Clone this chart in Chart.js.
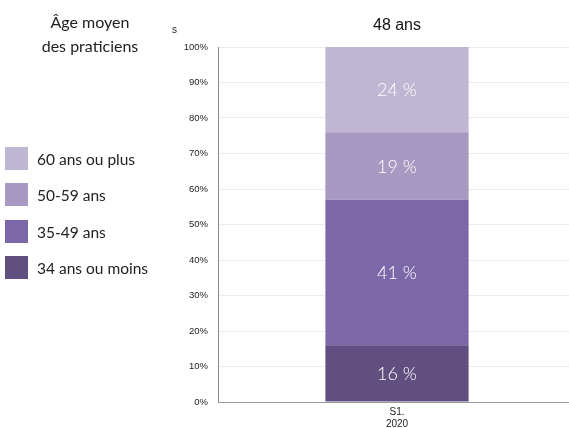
<!DOCTYPE html>
<html><head><meta charset="utf-8">
<script src="https://cdn.jsdelivr.net/npm/chart.js@4/dist/chart.umd.min.js"></script>
<style>
html,body{margin:0;padding:0;background:#fff;}
#wrap{position:relative;width:569px;height:428px;overflow:hidden;}
#c{position:absolute;left:0;top:0;}
.side{position:absolute;font-family:Lato,"Open Sans",sans-serif;color:#222;}
#ttl{left:0;top:10px;width:180px;text-align:center;font-size:16px;line-height:24px;}
#s{left:172px;top:24px;font-family:"Liberation Sans",Arial,sans-serif;font-size:10px;}
.lg{position:absolute;left:5px;display:flex;align-items:center;font-family:Lato,"Open Sans",sans-serif;font-size:15.5px;color:#222;}
.lg span.sw{display:inline-block;width:23px;height:23px;margin-right:9px;}
</style></head>
<body><div id="wrap"><canvas id="c" width="577" height="434"></canvas>
<div class="side" id="ttl">Âge moyen<br>des praticiens</div>
<div class="side" id="s">s</div>
</div>
<script>
const categories = [["S1.", "2020"]];
const seriesNames = ["34 ans ou moins", "35-49 ans", "50-59 ans", "60 ans ou plus"];
const v34moins = [16];
const v35_49 = [41];
const v50_59 = [19];
const v60plus = [24];
const colors = ["#614f80", "#7c68a8", "#a899c2", "#bfb6d4"];
const yTicks = ["0%","10%","20%","30%","40%","50%","60%","70%","80%","90%","100%"];
const titleText = "48 ans";

const wrap = document.getElementById('wrap');
const legendTops = [147, 183, 220, 256];
[3,2,1,0].forEach((i, k) => {
  const d = document.createElement('div');
  d.className = 'lg';
  d.style.top = legendTops[k] + 'px';
  d.innerHTML = '<span class="sw" style="background:' + colors[i] + '"></span>' + seriesNames[i];
  wrap.appendChild(d);
});

const labelPlugin = {
  id: 'labels',
  afterDatasetsDraw(chart) {
    const ctx = chart.ctx;
    ctx.save();
    ctx.fillStyle = '#ffffff';
    ctx.font = '300 18px Lato, "Open Sans", sans-serif';
    ctx.textAlign = 'center';
    ctx.textBaseline = 'middle';
    chart.data.datasets.forEach((ds, di) => {
      chart.getDatasetMeta(di).data.forEach((bar, j) => {
        const y = (bar.y + bar.base) / 2;
        ctx.fillText(ds.data[j] + ' %', bar.x, y + 1);
      });
    });
    const bar0 = chart.getDatasetMeta(0).data[0];
    ctx.fillStyle = '#111';
    ctx.font = '16px "Liberation Sans", Arial, sans-serif';
    ctx.fillText(titleText, bar0.x, 26);
    ctx.restore();
  }
};

new Chart(document.getElementById('c'), {
  type: 'bar',
  data: {
    labels: categories,
    datasets: [
      {label: seriesNames[0], data: v34moins, backgroundColor: colors[0]},
      {label: seriesNames[1], data: v35_49, backgroundColor: colors[1]},
      {label: seriesNames[2], data: v50_59, backgroundColor: colors[2]},
      {label: seriesNames[3], data: v60plus, backgroundColor: colors[3]}
    ]
  },
  options: {
    responsive: false,
    animation: false,
    devicePixelRatio: 1,
    layout: {padding: {left: 170, top: 47, right: 1, bottom: 0}},
    datasets: {bar: {categoryPercentage: 0.4, barPercentage: 1}},
    plugins: {legend: {display: false}, title: {display: false}, tooltip: {enabled: false}},
    scales: {
      x: {
        stacked: true,
        grid: {display: false, drawTicks: false},
        border: {color: '#9a9a9a', width: 1},
        ticks: {color: '#222', font: {family: '"Liberation Sans", Arial, sans-serif', size: 10}, padding: 4, maxRotation: 0}
      },
      y: {
        stacked: true,
        min: 0, max: 100,
        afterFit(s) { s.width = 48; },
        grid: {color: '#ececec', drawTicks: false},
        border: {color: '#8a8a8a', width: 1},
        ticks: {
          stepSize: 10,
          color: '#222',
          padding: 10,
          font: {family: '"Liberation Sans", Arial, sans-serif', size: 9.5},
          callback: (v) => yTicks[Math.round(v / 10)]
        }
      }
    }
  },
  plugins: [labelPlugin]
});
</script>
</body></html>
